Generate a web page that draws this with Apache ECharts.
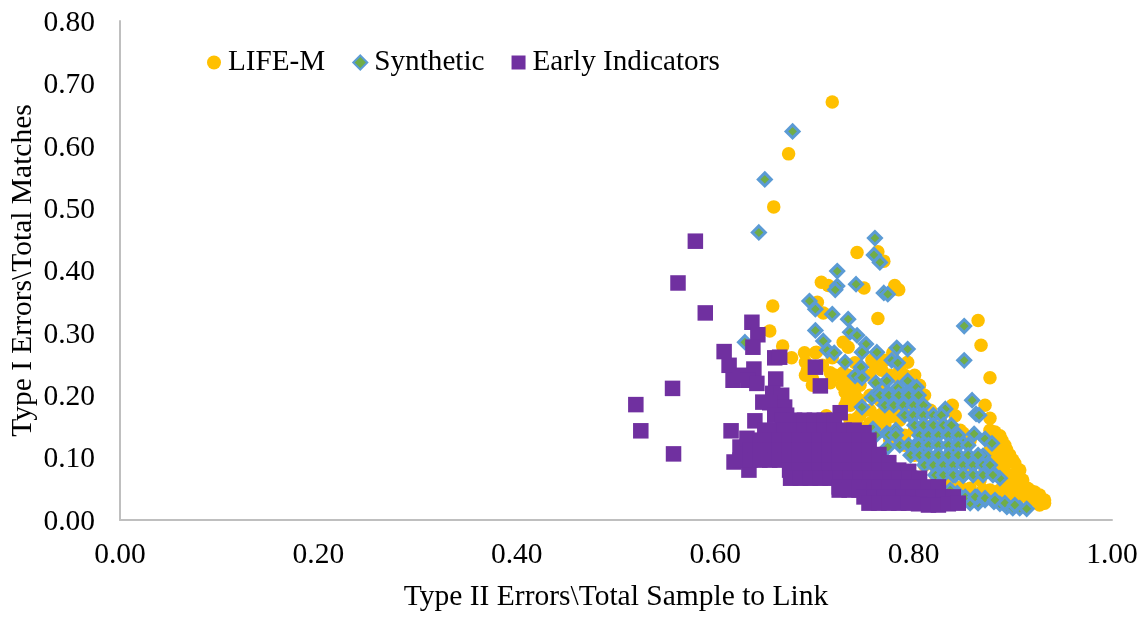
<!DOCTYPE html>
<html>
<head>
<meta charset="utf-8">
<style>html,body{margin:0;padding:0;background:#fff}#c{width:1146px;height:617px}</style>
<script src="https://cdn.jsdelivr.net/npm/echarts@6/dist/echarts.min.js"></script>
</head>
<body>
<div id="c"></div>
<script>
const seriesNames = ['LIFE-M', 'Synthetic', 'Early Indicators'];
const xTitle = 'Type II Errors\\Total Sample to Link';
const yTitle = 'Type I Errors\\Total Matches';

const lifeM = [
[.718,.670],[.674,.587],[.659,.502],[.658,.343],[.707,.381],[.714,.376],[.703,.349],[.709,.332],[.655,.303],[.668,.279],
[.743,.429],[.764,.430],[.770,.415],[.750,.372],[.781,.376],[.785,.369],[.764,.323],[.865,.320],[.868,.280],[.877,.228],
[.677,.260],[.690,.268],[.702,.269],[.691,.253],[.693,.240],[.698,.227],[.729,.285],[.734,.277],[.701,.268],[.718,.260],
[.741,.252],[.729,.236],[.731,.205],[.738,.205],[.733,.192],[.794,.253],[.768,.240],[.779,.268],[.758,.256],[.806,.205],
[.743,.163],[.756,.155],[.776,.165],[.716,.220],[.839,.184],[.842,.167],[.872,.184],[.877,.163],[.882,.141],[.889,.128],
[.894,.112],[.900,.096],[.907,.080],[.910,.064],[.917,.048],[.927,.037],[.932,.032],[.850,.139],[.897,.051],[.870,.048],
[.837,.056],[.824,.061],[.930,.029],[.746,.216],[.756,.200],[.766,.192],[.776,.200],[.786,.224],[.756,.176],[.736,.184],
[.736,.160],[.746,.144],[.766,.144],[.786,.160],[.791,.136],[.712,.167],[.766,.168],[.887,.096],
[.887,.080],[.892,.064],[.897,.072],[.887,.112],[.877,.128],[.872,.080],[.857,.080],[.867,.064],[.887,.048],[.907,.048],
[.847,.144],[.857,.128],[.837,.144],[.827,.160],[.817,.176],[.801,.144],[.811,.152],[.776,.128],[.902,.061],[.892,.040],
[.887,.135],[.892,.120],[.897,.104],[.902,.091],[.905,.077],[.909,.064],[.915,.051],[.922,.045],[.927,.040],[.932,.027],
[.927,.024],[.917,.032],[.907,.037],[.897,.040],[.847,.053],[.857,.051],[.877,.048],[.877,.112],[.882,.096],[.892,.088],
[.897,.056],[.902,.072],[.877,.144],
[.734,.232],[.736,.216],[.728,.216],[.741,.200],[.731,.184],[.746,.192],[.751,.176],[.766,.216],[.776,.232],[.786,.240],
[.791,.232],[.801,.232],[.806,.216],[.811,.200],[.761,.248],[.771,.256],[.756,.232],[.746,.168],[.761,.160],[.771,.176],
[.781,.168],[.791,.176],[.751,.147],[.771,.152],[.781,.128],[.791,.120],[.801,.104],[.811,.088],[.822,.072],[.832,.064],
[.721,.232],[.698,.216],[.691,.232],[.708,.248],[.716,.236]
];

const synthetic = [
[.678,.623],[.650,.546],[.644,.461],[.695,.351],[.701,.338],[.701,.304],[.709,.287],[.630,.285],[.761,.452],[.760,.425],
[.766,.413],[.723,.399],[.723,.375],[.721,.369],[.742,.378],[.770,.364],[.774,.362],[.718,.330],[.734,.322],[.713,.272],
[.720,.268],[.736,.301],[.743,.296],[.752,.282],[.748,.269],[.763,.269],[.731,.253],[.783,.276],[.794,.274],[.778,.256],
[.784,.252],[.747,.245],[.741,.231],[.748,.228],[.762,.220],[.773,.223],[.794,.223],[.748,.181],[.758,.196],[.764,.204],
[.774,.204],[.784,.212],[.803,.213],[.794,.204],[.782,.187],[.799,.192],[.851,.311],[.851,.256],[.859,.192],[.832,.178],
[.863,.170],[.866,.168],[.861,.138],[.872,.130],[.879,.123],[.870,.103],[.879,.077],[.887,.067],[.847,.128],[.832,.149],
[.819,.152],[.811,.133],[.822,.136],[.798,.165],[.808,.170],[.759,.146],[.773,.139],[.782,.144],[.774,.117],[.802,.120],
[.824,.104],[.839,.111],[.808,.109],[.830,.083],[.842,.072],[.850,.071],[.865,.027],[.881,.029],[.894,.021],[.907,.019],
[.914,.018],[.857,.027],[.872,.032],[.887,.026],[.900,.019],[.844,.043],[.837,.048],[.864,.037],
[.844,.037],[.852,.037],[.862,.037],[.872,.035],[.882,.032],[.892,.027],[.902,.024],
[.766,.200],[.775,.200],[.785,.200],[.795,.200],[.805,.200],
[.771,.184],[.780,.184],[.790,.184],[.800,.184],[.810,.184],
[.791,.168],[.800,.168],[.810,.168],[.820,.168],[.828,.168],
[.801,.152],[.810,.152],[.820,.152],[.830,.152],[.838,.152],
[.762,.136],[.775,.136],[.782,.136],[.806,.136],[.815,.136],[.825,.136],[.835,.136],[.845,.136],
[.786,.120],[.795,.120],[.805,.120],[.815,.120],[.825,.120],[.835,.120],[.845,.120],[.855,.120],
[.797,.104],[.806,.104],[.815,.104],[.825,.104],[.835,.104],[.845,.104],[.855,.104],[.865,.104],
[.811,.088],[.820,.088],[.830,.088],[.840,.088],[.850,.088],[.860,.088],[.870,.088],[.877,.088],
[.822,.072],[.830,.072],[.840,.072],[.850,.072],[.860,.072],[.870,.072],[.880,.072]
];

const earlyIndicators = [
[.580,.447],[.5625,.380],[.590,.332],[.637,.317],[.643,.297],[.638,.277],[.609,.270],[.614,.248],[.618,.224],[.557,.211],
[.520,.185],[.525,.143],[.558,.106],[.660,.260],[.665,.261],[.639,.242],[.661,.226],[.701,.245],[.706,.215],[.726,.172],
[.625,.232],[.633,.224],[.642,.219],[.648,.189],[.658,.203],[.667,.200],[.670,.181],[.655,.188],[.640,.159],[.616,.143],
[.625,.117],[.619,.093],[.634,.080],[.632,.131],
[.660,.168],[.672,.168],
[.668,.160],[.680,.160],[.690,.160],[.700,.160],[.710,.160],[.720,.160],
[.650,.144],[.660,.144],[.670,.144],[.680,.144],[.690,.144],[.700,.144],[.710,.144],[.720,.144],[.730,.144],[.740,.144],[.750,.140],
[.645,.128],[.655,.128],[.665,.128],[.675,.128],[.685,.128],[.695,.128],[.705,.128],[.715,.128],[.725,.128],[.735,.128],[.745,.128],[.755,.128],
[.635,.112],[.645,.112],[.655,.112],[.665,.112],[.675,.112],[.685,.112],[.695,.112],[.705,.112],[.715,.112],[.725,.112],[.735,.112],[.745,.112],[.755,.112],[.765,.105],
[.625,.096],[.635,.096],[.645,.096],[.655,.096],[.665,.096],[.675,.096],[.685,.096],[.695,.096],[.705,.096],[.715,.096],[.725,.096],[.735,.096],[.745,.096],[.755,.096],[.765,.096],[.775,.092],
[.675,.080],[.685,.080],[.695,.080],[.705,.080],[.715,.080],[.725,.080],[.735,.080],[.745,.080],[.755,.080],[.765,.080],[.775,.080],[.785,.080],[.795,.078],
[.676,.067],[.686,.067],[.696,.067],[.706,.067],[.716,.067],[.726,.067],[.736,.067],[.746,.067],[.756,.067],[.766,.067],[.776,.067],[.786,.067],[.796,.067],[.806,.067],
[.725,.053],[.735,.053],[.745,.053],[.755,.053],[.765,.053],[.775,.053],[.785,.053],[.795,.053],[.805,.053],[.815,.053],[.825,.053],
[.725,.048],[.735,.048],[.745,.048],
[.750,.037],[.760,.037],[.770,.037],[.780,.037],[.790,.037],[.800,.037],[.810,.037],[.820,.037],[.830,.037],[.840,.037],
[.755,.027],[.765,.027],[.775,.027],[.785,.027],[.795,.027],[.805,.026],[.815,.024],[.825,.024],[.835,.026],[.845,.027]
];

const serif = '"Liberation Serif","Times New Roman",serif';
const axisCommon = {
  min: 0,
  splitLine: {show: false},
  axisTick: {show: false},
  axisLine: {show: true, onZero: false, lineStyle: {color: '#BFBFBF', width: 2}},
  axisLabel: {color: '#000', fontFamily: serif, fontSize: 29.5, formatter: v => v.toFixed(2)},
  nameLocation: 'middle',
  nameMoveOverlap: false,
  nameTextStyle: {color: '#000', fontFamily: serif, fontSize: 29.5}
};
const chart = echarts.init(document.getElementById('c'), null, {renderer: 'canvas'});
chart.setOption({
  animation: false,
  backgroundColor: '#fff',
  grid: {left: 120, right: 34, top: 21, bottom: 97, outerBoundsMode: 'none'},
  legend: {
    left: 202, top: 43, itemWidth: 14, itemHeight: 14, itemGap: 27,
    textStyle: {color: '#000', fontFamily: serif, fontSize: 29.2, padding: [0, 0, 0, 2]},
    data: seriesNames
  },
  xAxis: Object.assign({}, axisCommon, {type: 'value', max: 1, interval: 0.2, name: xTitle, nameGap: 62, axisLabel: Object.assign({}, axisCommon.axisLabel, {margin: 16, padding: [4, 0, 0, 0]})}),
  yAxis: Object.assign({}, axisCommon, {type: 'value', max: 0.8, interval: 0.1, name: yTitle, nameGap: 82, axisLabel: Object.assign({}, axisCommon.axisLabel, {margin: 25, verticalAlign: 'top', lineHeight: 4})}),
  series: [
    {name: seriesNames[0], type: 'scatter', data: lifeM, symbol: 'circle', symbolSize: 13.5, itemStyle: {color: '#FFC000', opacity: 1}},
    {name: seriesNames[1], type: 'scatter', data: synthetic, symbol: 'diamond', symbolSize: 13, itemStyle: {color: '#70AD47', borderColor: '#5B9BD5', borderWidth: 3, opacity: 1}},
    {name: seriesNames[2], type: 'scatter', data: earlyIndicators, symbol: 'rect', symbolSize: 15.5, itemStyle: {color: '#7030A0', opacity: 1}}
  ]
});
</script>
</body>
</html>
